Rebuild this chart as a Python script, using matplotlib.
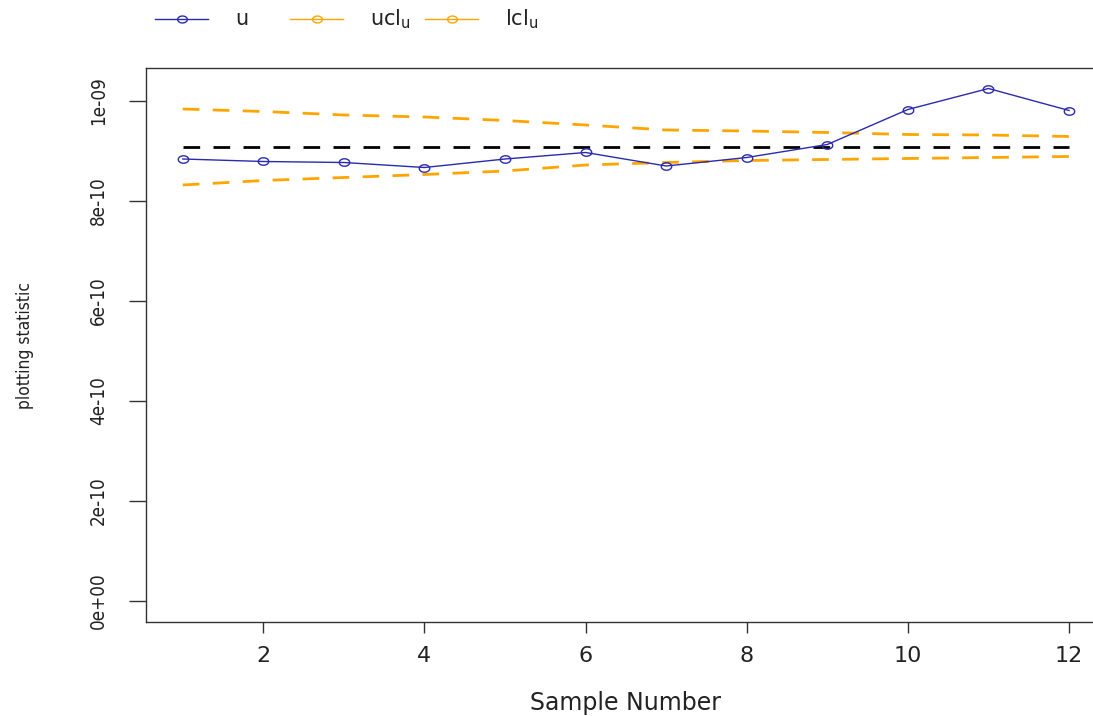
import numpy as np
import matplotlib
matplotlib.use("Agg")
import matplotlib.pyplot as plt
from matplotlib.path import Path
from matplotlib.lines import Line2D

# values (units of 1e-9)
sample = np.arange(1, 13)
u = np.array([0.884, 0.879, 0.877, 0.867, 0.884, 0.897,
              0.870, 0.887, 0.913, 0.983, 1.025, 0.981]) * 1e-9
ucl = np.array([0.984, 0.979, 0.972, 0.968, 0.961, 0.952,
                0.942, 0.940, 0.937, 0.933, 0.932, 0.929]) * 1e-9
lcl = np.array([0.832, 0.841, 0.847, 0.853, 0.860, 0.872,
                0.877, 0.881, 0.883, 0.885, 0.887, 0.889]) * 1e-9
center = np.full(12, 0.909e-9)

xticks = [2, 4, 6, 8, 10, 12]
yticks = [0, 2e-10, 4e-10, 6e-10, 8e-10, 1e-9]
ytick_labels = ["0e+00", "2e-10", "4e-10", "6e-10", "8e-10", "1e-09"]
legend_labels = ["u", r"ucl$_{\mathregular{u}}$", r"lcl$_{\mathregular{u}}$"]

BLUE = "#2a2aae"
ORANGE = "#ffa500"
W, H = 1093, 716

# open circle looks squashed in the reference, so use an ellipse marker
t = np.linspace(0, 2 * np.pi, 61)
oval = Path(np.column_stack([1.4 * np.cos(t), np.sin(t)]), closed=True)

fig = plt.figure(figsize=(W / 100, H / 100), dpi=100)
# axes run past the right edge, like the cropped original
ax = fig.add_axes([145.7 / W, 1 - 622 / H, (1104.5 - 145.7) / W, (622 - 68) / H])

lw_d = 2.0
dash = (6.0, 4.8)
ax.plot(sample, ucl, color=ORANGE, lw=lw_d, dashes=dash, zorder=2)
ax.plot(sample, lcl, color=ORANGE, lw=lw_d, dashes=dash, zorder=2)
ax.plot(sample, center, color="black", lw=lw_d, dashes=dash, zorder=2)
ax.plot(sample, u, color=BLUE, lw=1.0, marker=oval, ms=7.5, mfc="none",
        mec=BLUE, mew=1.0, zorder=3)

ax.set_xlim(0.54, 12.44)
ax.set_ylim(-0.042e-9, 1.066e-9)
ax.set_xticks(xticks)
ax.set_xticklabels([str(v) for v in xticks])
ax.set_yticks(yticks)
ax.set_yticklabels(ytick_labels, rotation=90, va="center",
                   family="DejaVu Sans", fontstretch="condensed", fontsize=13.5)

for side in ["left", "bottom", "top"]:
    ax.spines[side].set_color("#333333")
    ax.spines[side].set_linewidth(1.0)
ax.spines["right"].set_visible(False)
ax.tick_params(axis="x", length=8, width=1.0, color="#333333", pad=9,
               labelsize=16, labelcolor="#222222")
ax.tick_params(axis="y", length=12, width=1.0, color="#333333", pad=15,
               labelcolor="#222222")

fig.text(625 / W, 1 - 703 / H, "Sample Number", ha="center", va="center",
         fontsize=17, color="#222222")
fig.text(25 / W, 1 - 345 / H, "plotting statistic", ha="center", va="center",
         rotation=90, fontsize=12.5, fontstretch="condensed", color="#222222")

# legend along the top, fixed spacing like R's horiz legend
leg_colors = [BLUE, ORANGE, ORANGE]
ly = 1 - 19 / H
for i, (lab, col) in enumerate(zip(legend_labels, leg_colors)):
    x0 = 155 + 135 * i
    fig.add_artist(Line2D([x0 / W, (x0 + 53) / W], [ly, ly], color=col,
                          lw=1.0, transform=fig.transFigure))
    fig.add_artist(Line2D([(x0 + 26.5) / W], [ly], color=col, marker=oval,
                          ms=7, mfc="none", mew=1.0, transform=fig.transFigure))
    fig.text((x0 + 80) / W, ly, lab, ha="left", va="center", fontsize=15,
             color="#222222")

fig.savefig("out.png", dpi=100)
